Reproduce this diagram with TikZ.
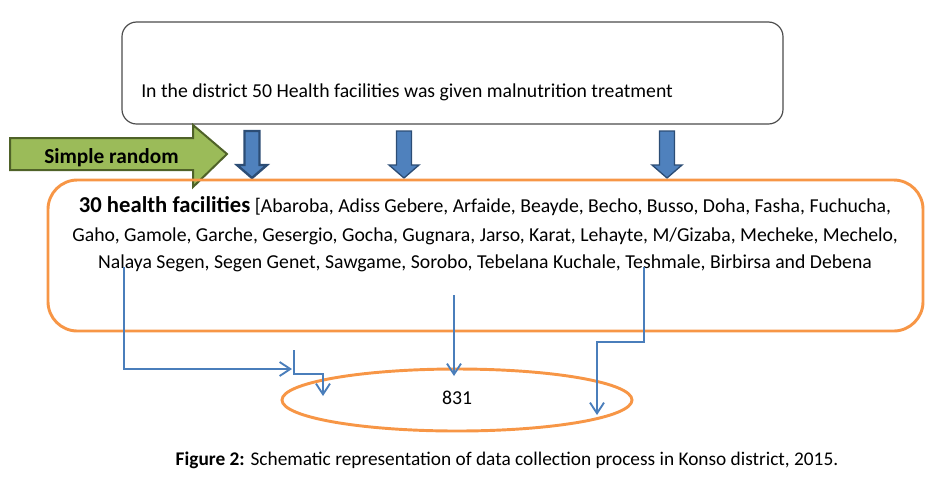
\documentclass[tikz,border=0pt]{standalone}
\usepackage{fontspec}
\setmainfont{Carlito}
\usetikzlibrary{shapes.geometric,arrows.meta}
\definecolor{orangeb}{HTML}{F79646}
\definecolor{greenf}{HTML}{9BBB59}
\definecolor{greend}{HTML}{4F6228}
\definecolor{bluef}{HTML}{4F81BD}
\definecolor{blued}{HTML}{2C4D75}
\definecolor{bluel}{HTML}{4A7EBB}
\begin{document}
\begin{tikzpicture}[x=0.75pt,y=-0.75pt,
  txt/.style={font=\fontsize{14.8}{17}\selectfont, inner sep=0pt},
  topbox/.style={draw=black!70, line width=0.9pt, rounded corners=11pt, minimum width=495.75pt, minimum height=76.5pt, inner sep=0pt},
  facbox/.style={draw=orangeb, line width=2.2pt, rounded corners=22pt, minimum width=656.25pt, minimum height=113.25pt, inner sep=0pt},
  sampleell/.style={draw=orangeb, line width=2.2pt, ellipse, minimum width=262.5pt, minimum height=46.5pt, inner sep=0pt},
  bluearrow/.style={fill=bluef, draw=blued, line width=1pt},
  conn/.style={draw=bluel, line width=1.4pt, -{Straight Barb[length=8pt,width=10.5pt,line width=1.4pt]}},
  connplain/.style={draw=bluel, line width=1.4pt}
]
\useasboundingbox (0,0) rectangle (945,480);
% top box
\node[topbox] (top) at (452.5,73) {};
\node[txt, anchor=base west] (toptxt) at (141,97) {In the district 50 Health facilities was given malnutrition treatment};
% green arrow
\path[fill=greenf, draw=greend, line width=1.5pt]
  (10,138) -- (193,138) -- (193,125) -- (227,154) -- (193,187) -- (193,170) -- (10,170) -- cycle;
\node[txt, font=\bfseries\fontsize{16}{19}\selectfont, anchor=base west] (sr) at (44,163) {Simple random};
% blue arrows
\foreach \cx/\lw in {252/1.8pt,404/1pt,667/1pt}{
  \path[bluearrow, line width=\lw] (\cx-7.5,131) -- (\cx+7.5,131) -- (\cx+7.5,165) -- (\cx+15,165) -- (\cx,178) -- (\cx-15,165) -- (\cx-7.5,165) -- cycle;
}
% facilities box
\node[facbox] (fac) at (485.5,255.5) {};
\node[txt, anchor=base] (l1) at (485,212) {{\bfseries\fontsize{17}{19}\selectfont 30 health facilities} [Abaroba, Adiss Gebere, Arfaide, Beayde, Becho, Busso, Doha, Fasha, Fuchucha,};
\node[txt, anchor=base] (l2) at (485,241) {Gaho, Gamole, Garche, Gesergio, Gocha, Gugnara, Jarso, Karat, Lehayte, M/Gizaba, Mecheke, Mechelo,};
\node[txt, anchor=base] (l3) at (485,268) {Nalaya Segen, Segen Genet, Sawgame, Sorobo, Tebelana Kuchale, Teshmale, Birbirsa and Debena};
% ellipse
\node[sampleell] (n831) at (457,400) {};
\node[txt, anchor=base] (t831) at (457,404) {831};
% connectors
\coordinate (a1) at (124,267);
\coordinate (a2) at (292,369);
\coordinate (b1) at (294,350);
\coordinate (b2) at (323,396);
\coordinate (m1) at (454,295);
\coordinate (m2) at (454,376);
\coordinate (r1) at (644,267);
\coordinate (r2) at (597,415);
\draw[conn] (a1) |- (a2);
\draw[conn] (b1) -- (294,374) -| (b2);
\draw[conn] (m1) -- (m2);
\draw[conn] (r1) -- (644,342) -| (r2);
% caption
\node[font=\fontsize{14.5}{17}\selectfont, inner sep=0pt, anchor=base] (cap) at (507,465) {\textbf{Figure 2:} Schematic representation of data collection process in Konso district, 2015.};
\end{tikzpicture}
\end{document}
